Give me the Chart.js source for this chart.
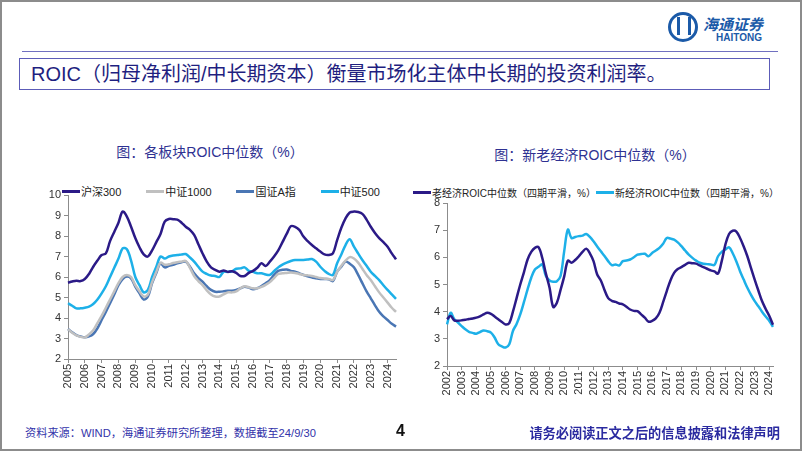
<!DOCTYPE html>
<html>
<head>
<meta charset="utf-8">
<script src="https://cdn.jsdelivr.net/npm/chart.js@4.4.1/dist/chart.umd.min.js"></script>
<style>
    body { margin: 0; background: #fff; }
    #slide { position: relative; width: 802px; height: 451px; overflow: hidden; background: #fff;
             font-family: "Liberation Sans", "Noto Sans CJK SC", sans-serif; }
    #frame { position: absolute; left: 0; top: 0; width: 802px; height: 451px; box-sizing: border-box;
             border: 2px solid #8c8c8c; }
    .abs { position: absolute; white-space: nowrap; }
    .legend { position: absolute; display: flex; justify-content: space-between; font-size: 11px; color: #222;
              white-space: nowrap; }
    .legend span.item { display: flex; align-items: center; white-space: nowrap; }
    .legend span.swatch { display: inline-block; width: 18px; height: 3px; margin-right: 1px; }
    canvas { position: absolute; }
</style>
</head>
<body>
<div id="slide">
    <div id="frame"></div>

    <!-- logo -->
    <div class="abs" style="left:668px;top:12px;width:24px;height:24px;border:3px solid #1b5aa8;border-radius:50%;"></div>
    <div class="abs" style="left:677px;top:17px;width:8px;height:18px;border-left:3px solid #1b5aa8;border-right:3px solid #1b5aa8;"></div>
    <div class="abs" style="left:703px;top:13px;font-size:15px;font-weight:bold;font-style:italic;color:#1b5aa8;">海通证券</div>
    <div class="abs" style="left:716px;top:32px;font-size:10px;font-weight:bold;color:#1b5aa8;">HAITONG</div>

    <div class="abs" style="left:22px;top:51px;width:756px;height:1px;background:#7070c0;"></div>
    <div class="abs" style="left:19px;top:58px;width:751px;height:32px;box-sizing:border-box;border:1px solid #5c5cb8;"></div>
    <div class="abs" style="left:31px;top:59px;line-height:30px;font-size:20px;color:#1f1f80;">ROIC（归母净利润/中长期资本）衡量市场化主体中长期的投资利润率。</div>

    <div class="abs" style="left:60px;top:141px;width:300px;text-align:center;font-size:14px;color:#2e3192;">图：各板块ROIC中位数（%）</div>
    <div class="abs" style="left:445px;top:144px;width:300px;text-align:center;font-size:14px;color:#2e3192;">图：新老经济ROIC中位数（%）</div>

    <div id="legendLeft" class="legend" style="left:62px;top:183px;width:318px;"></div>
    <div id="legendRight" class="legend" style="left:413px;top:185px;width:366px;font-size:10px;"></div>

    <canvas id="leftChart" width="400" height="220" style="left:20px;top:180px;"></canvas>
    <canvas id="rightChart" width="400" height="230" style="left:400px;top:190px;"></canvas>

    <div class="abs" style="left:25px;top:424px;font-size:11.2px;color:#3333aa;">资料来源：WIND，海通证券研究所整理，数据截至24/9/30</div>
    <div class="abs" style="left:396px;top:422px;font-size:16px;font-weight:bold;color:#111;">4</div>
    <div class="abs" style="right:22px;top:423px;font-size:13.2px;font-weight:bold;color:#2a2aa0;">请务必阅读正文之后的信息披露和法律声明</div>
</div>

<script>
// 各板块ROIC中位数, quarterly 2005Q1 - 2024Q3
const hs300 = [
    5.72, 5.78, 5.82, 5.80, 5.90, 6.15, 6.50, 6.80, 7.07, 7.15, 7.75, 8.20,
    8.65, 9.19, 8.95, 8.45, 7.90, 7.45, 7.10, 7.00, 7.30, 7.70, 8.10, 8.70,
    8.83, 8.82, 8.80, 8.65, 8.45, 8.30, 8.05, 7.60, 7.15, 6.75, 6.47, 6.35,
    6.26, 6.32, 6.25, 6.28, 6.20, 6.05, 6.05, 6.20, 6.30, 6.45, 6.67, 6.54,
    6.75, 7.00, 7.30, 7.70, 8.10, 8.48, 8.45, 8.30, 7.97, 7.75, 7.56, 7.40,
    7.24, 7.10, 7.07, 7.15, 7.80, 8.40, 8.86, 9.15, 9.19, 9.17, 9.08, 8.80,
    8.45, 8.15, 7.90, 7.70, 7.48, 7.15, 6.86
];
const zz1000 = [
    3.46, 3.28, 3.15, 3.08, 3.05, 3.20, 3.40, 3.75, 4.10, 4.50, 4.90, 5.30,
    5.70, 6.00, 6.10, 6.00, 5.60, 5.30, 5.05, 5.15, 5.75, 6.25, 6.70, 6.60,
    6.62, 6.68, 6.72, 6.75, 6.78, 6.45, 6.05, 5.80, 5.60, 5.35, 5.15, 5.05,
    5.05, 5.15, 5.25, 5.25, 5.30, 5.45, 5.55, 5.50, 5.45, 5.45, 5.52, 5.62,
    5.75, 5.95, 6.15, 6.18, 6.20, 6.22, 6.20, 6.15, 6.10, 6.08, 6.05, 6.00,
    5.95, 5.92, 5.90, 5.85, 6.25, 6.55, 6.80, 6.97, 6.90, 6.70, 6.40, 6.10,
    5.85, 5.55, 5.25, 5.00, 4.75, 4.50, 4.30
];
const gzA = [
    3.46, 3.30, 3.17, 3.10, 3.06, 3.10, 3.22, 3.50, 3.90, 4.30, 4.72, 5.15,
    5.60, 5.90, 6.02, 5.93, 5.53, 5.20, 4.90, 5.05, 5.70, 6.20, 6.67, 6.47,
    6.55, 6.60, 6.67, 6.72, 6.75, 6.50, 6.18, 5.95, 5.77, 5.55, 5.37, 5.28,
    5.28, 5.30, 5.33, 5.33, 5.37, 5.45, 5.53, 5.48, 5.40, 5.45, 5.56, 5.70,
    5.85, 6.10, 6.30, 6.35, 6.37, 6.30, 6.26, 6.18, 6.10, 6.03, 5.98, 5.94,
    5.90, 5.90, 5.89, 5.80, 6.26, 6.50, 6.75, 6.65, 6.47, 6.10, 5.70, 5.30,
    4.96, 4.62, 4.30, 4.08, 3.90, 3.72, 3.58
];
const zz500 = [
    4.72, 4.60, 4.47, 4.47, 4.50, 4.55, 4.68, 4.90, 5.20, 5.55, 6.00, 6.45,
    6.90, 7.40, 7.35, 6.80, 6.00, 5.60, 5.25, 5.37, 6.00, 6.50, 7.00, 6.90,
    7.00, 7.05, 7.07, 7.10, 7.12, 6.95, 6.75, 6.50, 6.26, 6.15, 6.07, 6.05,
    6.00, 6.25, 6.25, 6.28, 6.40, 6.42, 6.47, 6.30, 6.25, 6.18, 6.18, 6.12,
    6.10, 6.28, 6.47, 6.60, 6.70, 6.78, 6.83, 6.83, 6.83, 6.85, 6.88, 6.75,
    6.50, 6.30, 6.15, 6.10, 6.67, 7.10, 7.56, 7.84, 7.48, 7.15, 6.83, 6.55,
    6.26, 6.05, 5.85, 5.60, 5.37, 5.15, 4.93
];

// 新老经济ROIC中位数（四期平滑）, quarterly 2002Q1 - 2024Q2
const oldEconomy = [
    3.72, 3.84, 3.68, 3.67, 3.68, 3.70, 3.73, 3.75, 3.78, 3.83, 3.90, 3.96,
    3.92, 3.82, 3.72, 3.62, 3.53, 3.58, 4.00, 4.50, 5.00, 5.45, 5.92, 6.20,
    6.35, 6.37, 5.98, 5.40, 4.88, 4.17, 4.33, 4.80, 5.30, 5.88, 5.80, 5.90,
    6.04, 6.20, 6.32, 6.15, 5.86, 5.37, 5.15, 4.80, 4.50, 4.40, 4.36, 4.30,
    4.27, 4.18, 4.08, 4.03, 4.02, 3.90, 3.78, 3.63, 3.66, 3.75, 3.96, 4.35,
    4.76, 5.15, 5.43, 5.57, 5.64, 5.72, 5.80, 5.78, 5.77, 5.70, 5.64, 5.58,
    5.52, 5.48, 5.40, 5.86, 6.47, 6.86, 6.98, 6.95, 6.71, 6.40, 6.04, 5.60,
    5.18, 4.78, 4.39, 4.10, 3.84, 3.52
];
const newEconomy = [
    3.53, 3.96, 3.72, 3.60, 3.47, 3.35, 3.26, 3.22, 3.19, 3.25, 3.31, 3.28,
    3.23, 3.05, 2.80, 2.72, 2.68, 2.80, 3.29, 3.55, 3.90, 4.35, 4.82, 5.25,
    5.55, 5.65, 5.74, 5.31, 5.15, 5.10, 5.12, 5.31, 6.23, 7.02, 6.71, 6.75,
    6.78, 6.80, 6.86, 6.75, 6.59, 6.40, 6.22, 6.05, 5.86, 5.71, 5.74, 5.70,
    5.86, 5.88, 5.92, 6.00, 6.10, 6.12, 6.13, 6.04, 6.16, 6.25, 6.35, 6.50,
    6.71, 6.69, 6.65, 6.55, 6.41, 6.25, 6.10, 5.98, 5.88, 5.80, 5.76, 5.75,
    5.74, 5.72, 6.04, 6.20, 6.29, 6.37, 6.15, 5.85, 5.49, 5.18, 4.88, 4.62,
    4.39, 4.20, 4.00, 3.82, 3.66, 3.44
];

function quarterLabels(startYear, count) {
    const out = [];
    for (let i = 0; i < count; i++) {
        out.push((startYear + Math.floor(i / 4)) + "Q" + (i % 4 + 1));
    }
    return out;
}
const leftLabels = quarterLabels(2005, hs300.length);
const rightLabels = quarterLabels(2002, oldEconomy.length);

const AXIS = "#8c8c8c";
const tickFont = { family: "Liberation Sans, Arial, sans-serif", size: 11 };

function line(label, data, color) {
    return { label: label, data: data, borderColor: color, backgroundColor: color,
             borderWidth: 2.5, pointRadius: 0, tension: 0.35, fill: false };
}

function makeOptions(yMin, yMax, yWidth, xHeight, pad) {
    return {
        responsive: false,
        animation: false,
        layout: { padding: pad },
        plugins: { legend: { display: false }, tooltip: { enabled: false } },
        scales: {
            x: {
                type: "category",
                offset: false,
                border: { display: true, color: AXIS, width: 1 },
                grid: {
                    drawOnChartArea: false,
                    tickLength: 4,
                    color: (ctx) => (ctx.index % 4 === 0 ? AXIS : "rgba(0,0,0,0)"),
                },
                ticks: {
                    autoSkip: false,
                    minRotation: 90,
                    maxRotation: 90,
                    padding: 1,
                    color: "#333",
                    font: tickFont,
                    callback: function (value) {
                        const l = this.getLabelForValue(value);
                        return l.endsWith("Q1") ? l.slice(0, 4) : "";
                    },
                },
                afterFit: (scale) => { scale.height = xHeight; },
            },
            y: {
                min: yMin,
                max: yMax,
                border: { display: true, color: AXIS, width: 1 },
                grid: { drawOnChartArea: false, tickLength: 4, color: AXIS },
                ticks: { stepSize: 1, padding: 3, color: "#333", font: tickFont },
                afterFit: (scale) => { scale.width = yWidth; },
            },
        },
    };
}

function buildLegend(id, datasets) {
    const box = document.getElementById(id);
    datasets.forEach((ds) => {
        const item = document.createElement("span");
        item.className = "item";
        const sw = document.createElement("span");
        sw.className = "swatch";
        sw.style.background = ds.borderColor;
        item.appendChild(sw);
        item.appendChild(document.createTextNode(ds.label));
        box.appendChild(item);
    });
}

const leftDatasets = [
    line("沪深300", hs300, "#2b1a87"),
    line("中证1000", zz1000, "#c0c0c0"),
    line("国证A指", gzA, "#4a76b4"),
    line("中证500", zz500, "#1db0e8"),
];
new Chart(document.getElementById("leftChart"), {
    type: "line",
    data: { labels: leftLabels, datasets: leftDatasets },
    options: makeOptions(2, 10, 48, 41, { top: 15, right: 24, bottom: 0, left: 0 }),
});
buildLegend("legendLeft", leftDatasets);

const rightDatasets = [
    line("老经济ROIC中位数（四期平滑，%）", oldEconomy, "#2b1a87"),
    line("新经济ROIC中位数（四期平滑，%）", newEconomy, "#1db0e8"),
];
new Chart(document.getElementById("rightChart"), {
    type: "line",
    data: { labels: rightLabels, datasets: rightDatasets },
    options: makeOptions(2, 8, 47, 54, { top: 13, right: 27, bottom: 0, left: 0 }),
});
buildLegend("legendRight", rightDatasets);
</script>
</body>
</html>
